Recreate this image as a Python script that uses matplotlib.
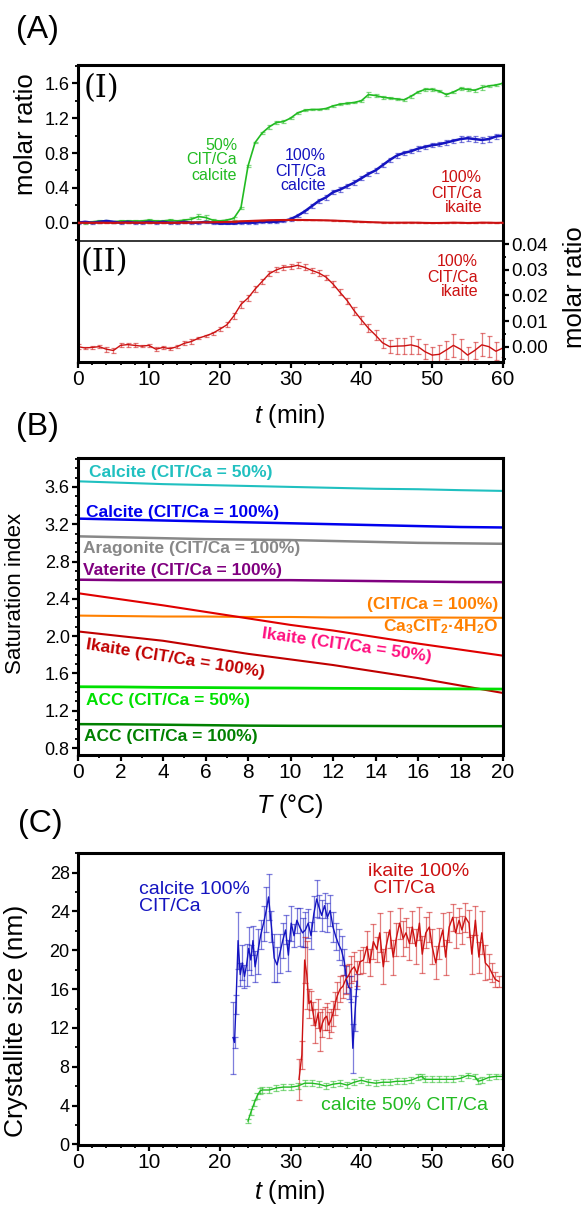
import numpy as np
import matplotlib
matplotlib.use('Agg')
import matplotlib.pyplot as plt
from matplotlib.ticker import MultipleLocator, FormatStrFormatter

plt.rcParams['font.family'] = ['Liberation Sans', 'DejaVu Sans']
plt.rcParams['mathtext.fontset'] = 'custom'
plt.rcParams['mathtext.rm'] = 'Liberation Sans'
plt.rcParams['mathtext.it'] = 'Liberation Sans:italic'
plt.rcParams['mathtext.bf'] = 'Liberation Sans:bold'

# ---------------- panel A : molar ratio vs time ----------------
t_a = list(range(0, 61))
calc50_a = [0.01, 0.00, 0.01, 0.02, 0.02, 0.01, 0.02, 0.02, 0.02, 0.02,
            0.03, 0.02, 0.02, 0.03, 0.02, 0.03, 0.04, 0.07, 0.06, 0.03,
            0.02, 0.03, 0.05, 0.17, 0.65, 0.92, 1.03, 1.10, 1.15, 1.16,
            1.20, 1.26, 1.29, 1.30, 1.30, 1.31, 1.34, 1.36, 1.37, 1.38,
            1.40, 1.47, 1.46, 1.44, 1.43, 1.42, 1.41, 1.45, 1.50, 1.53,
            1.53, 1.51, 1.47, 1.50, 1.54, 1.53, 1.52, 1.55, 1.57, 1.58, 1.60]
calc50_a_err = [0.01, 0.01, 0.01, 0.01, 0.01, 0.01, 0.01, 0.01, 0.01, 0.01,
                0.01, 0.01, 0.01, 0.01, 0.01, 0.01, 0.03, 0.03, 0.03, 0.015,
                0.015, 0.015, 0.015, 0.01, 0.01, 0.01, 0.01, 0.02, 0.02, 0.02,
                0.01, 0.01, 0.01, 0.01, 0.01, 0.01, 0.01, 0.01, 0.01, 0.01,
                0.01, 0.03, 0.015, 0.015, 0.015, 0.015, 0.015, 0.015, 0.015, 0.015,
                0.015, 0.015, 0.015, 0.015, 0.015, 0.015, 0.015, 0.025, 0.015, 0.015, 0.015]
calc100_a = [0.00, 0.01, 0.00, 0.01, 0.02, 0.01, 0.00, 0.01, 0.00, 0.00,
             0.01, 0.00, 0.01, 0.00, 0.00, 0.01, 0.00, 0.00, 0.01, 0.00,
             -0.01, -0.01, -0.01, 0.00, 0.00, 0.00, 0.01, 0.01, 0.01, 0.02,
             0.04, 0.08, 0.13, 0.19, 0.25, 0.29, 0.35, 0.38, 0.42, 0.46,
             0.51, 0.56, 0.60, 0.66, 0.72, 0.77, 0.80, 0.82, 0.85, 0.87,
             0.89, 0.90, 0.92, 0.94, 0.96, 0.97, 0.96, 0.95, 0.96, 0.99, 1.00]
calc100_a_err = [0.01] * 30 + [0.02, 0.02, 0.02, 0.025, 0.025, 0.025, 0.025, 0.025, 0.025, 0.025,
                               0.025, 0.025, 0.025, 0.025, 0.025, 0.025, 0.025, 0.025, 0.025, 0.025,
                               0.025, 0.025, 0.025, 0.025, 0.03, 0.03, 0.03, 0.03, 0.03, 0.03, 0.03]
ika100_a = [0.0000, -0.0005, -0.0003, 0.0000, -0.0010, -0.0015, 0.0005, 0.0008, 0.0005, 0.0002,
            0.0005, -0.0010, -0.0003, -0.0008, 0.0000, 0.0013, 0.0020, 0.0033, 0.0042, 0.0052,
            0.0068, 0.0085, 0.0120, 0.0165, 0.0190, 0.0225, 0.0255, 0.0285, 0.0300, 0.0310,
            0.0312, 0.0318, 0.0310, 0.0298, 0.0288, 0.0272, 0.0245, 0.0212, 0.0180, 0.0140,
            0.0105, 0.0072, 0.0045, 0.0015, 0.0000, 0.0002, 0.0003, 0.0007, 0.0000, -0.0020,
            -0.0033, -0.0030, -0.0013, 0.0005, -0.0010, -0.0033, -0.0015, 0.0007, 0.0000, -0.0018, -0.0005]
ika100_a_err = [0.0010, 0.0005, 0.0005, 0.0005, 0.0010, 0.0010, 0.0008, 0.0008, 0.0008, 0.0005,
                0.0005, 0.0008, 0.0005, 0.0005, 0.0005, 0.0008, 0.0008, 0.0005, 0.0005, 0.0005,
                0.0008, 0.0010, 0.0012, 0.0012, 0.0012, 0.0012, 0.0010, 0.0010, 0.0010, 0.0010,
                0.0010, 0.0012, 0.0012, 0.0010, 0.0010, 0.0010, 0.0012, 0.0012, 0.0012, 0.0015,
                0.0015, 0.0015, 0.0020, 0.0020, 0.0025, 0.0030, 0.0030, 0.0035, 0.0030, 0.0030,
                0.0030, 0.0035, 0.0035, 0.0045, 0.0040, 0.0030, 0.0035, 0.0045, 0.0040, 0.0035, 0.0035]

# ---------------- panel B : saturation index vs T ----------------
T_b = [0, 2, 4, 6, 8, 10, 12, 14, 16, 18, 20]
si_calcite50 = [3.66, 3.645, 3.63, 3.62, 3.61, 3.60, 3.59, 3.58, 3.575, 3.565, 3.557]
si_calcite100 = [3.26, 3.25, 3.24, 3.23, 3.22, 3.21, 3.20, 3.19, 3.18, 3.17, 3.165]
si_aragonite100 = [3.07, 3.06, 3.05, 3.04, 3.035, 3.03, 3.02, 3.01, 3.00, 2.995, 2.99]
si_vaterite100 = [2.605, 2.60, 2.60, 2.60, 2.60, 2.60, 2.595, 2.59, 2.585, 2.58, 2.578]
si_cacit100 = [2.22, 2.215, 2.21, 2.21, 2.205, 2.205, 2.20, 2.20, 2.20, 2.198, 2.196]
si_ikaite50 = [2.46, 2.395, 2.33, 2.26, 2.19, 2.12, 2.06, 1.99, 1.92, 1.855, 1.79]
si_ikaite100 = [2.05, 2.00, 1.95, 1.88, 1.81, 1.75, 1.69, 1.62, 1.55, 1.47, 1.39]
si_acc50 = [1.457, 1.455, 1.45, 1.448, 1.445, 1.443, 1.44, 1.438, 1.436, 1.434, 1.432]
si_acc100 = [1.056, 1.054, 1.05, 1.045, 1.04, 1.038, 1.037, 1.036, 1.035, 1.034, 1.034]

# ---------------- panel C : crystallite size vs time ----------------
t_c_calc100 = [21.9, 22.1, 22.3, 22.6, 22.9, 23.2, 23.5, 23.8, 24.1, 24.4, 24.7, 25.0, 25.4,
               25.8, 26.2, 26.6, 26.9, 27.3, 27.7, 28.1, 28.5, 28.9, 29.3, 29.7, 30.1, 30.5,
               30.9, 31.3, 31.7, 32.1, 32.5, 32.9, 33.3, 33.7, 34.0, 34.4, 34.8, 35.2, 35.6,
               36.0, 36.4, 36.8, 37.2, 37.6, 37.9, 38.2, 38.5, 38.8, 39.1, 39.4]
size_calc100 = [11.0, 10.5, 14.4, 21.0, 17.5, 18.7, 17.3, 18.5, 20.2, 19.0, 21.0, 18.3, 19.9,
                21.6, 22.8, 24.2, 25.5, 22.5, 19.2, 18.5, 19.7, 21.0, 22.1, 19.5, 22.8, 21.5,
                23.1, 22.4, 21.8, 22.1, 22.8, 21.5, 23.8, 25.3, 24.5, 23.6, 24.6, 23.4, 24.1,
                22.4, 21.4, 20.6, 20.0, 18.8, 17.0, 16.2, 16.0, 9.9, 13.5, 16.8]
size_calc100_err = [3.7, 0.6, 1.0, 2.9, 1.2, 1.8, 1.2, 2.2, 2.2, 1.5, 1.5, 1.6, 2.3,
                    1.5, 1.8, 2.3, 2.4, 1.6, 2.5, 1.8, 2.0, 1.8, 1.5, 1.6, 1.8, 1.2,
                    1.3, 2.0, 1.5, 1.8, 1.5, 1.4, 1.8, 1.9, 1.2, 1.6, 1.3, 1.5, 1.6,
                    1.5, 1.4, 1.6, 1.5, 1.3, 1.4, 1.2, 1.3, 2.5, 1.8, 0.8]

t_c_ika100 = [31.2, 31.6, 32.0, 32.3, 32.6, 32.9, 33.2, 33.5, 33.9, 34.2, 34.5, 34.8, 35.1,
              35.4, 35.7, 36.0, 36.3, 36.6, 37.0, 37.4, 37.8, 38.2, 38.6, 39.0, 39.4, 39.8,
              40.3, 40.8, 41.2, 41.7, 42.2, 42.6, 43.1, 43.5, 44.0, 44.5, 44.9, 45.4, 45.9,
              46.3, 46.8, 47.2, 47.7, 48.2, 48.6, 49.1, 49.6, 50.0, 50.5, 51.0, 51.5, 51.9,
              52.4, 52.9, 53.3, 53.8, 54.2, 54.7, 55.2, 55.6, 56.1, 56.6, 57.0, 57.5, 58.0,
              58.4, 58.9, 59.4]
size_ika100 = [6.7, 9.2, 19.0, 17.5, 14.5, 14.8, 13.5, 12.2, 13.5, 11.6, 12.5, 13.0, 13.2,
               12.3, 12.8, 13.5, 14.5, 15.3, 16.0, 16.3, 17.0, 17.4, 18.0, 18.3, 17.6, 18.8,
               19.0, 20.4, 18.7, 20.9, 20.1, 21.8, 18.3, 20.4, 22.1, 19.3, 21.1, 22.8, 21.2,
               21.8, 20.7, 22.4, 20.4, 22.8, 19.6, 21.8, 22.4, 20.4, 18.7, 20.7, 22.1, 19.3,
               22.4, 23.4, 21.8, 23.1, 22.1, 23.4, 22.8, 19.6, 23.1, 19.3, 21.8, 18.7, 18.3,
               17.7, 17.0, 16.8]
size_ika100_err = [2.1, 1.4, 2.4, 3.5, 1.5, 1.0, 1.2, 1.8, 1.5, 2.0, 1.4, 1.2, 1.4,
                   1.3, 1.2, 1.3, 1.2, 1.4, 1.3, 1.2, 1.5, 1.2, 1.4, 1.5, 1.3, 1.2,
                   1.3, 1.6, 1.4, 1.8, 1.3, 2.0, 1.8, 1.5, 1.9, 1.8, 1.7, 1.6, 1.8,
                   1.5, 1.7, 1.6, 1.8, 1.7, 1.9, 1.6, 1.5, 1.8, 1.7, 1.6, 1.7, 1.8,
                   1.5, 1.4, 1.6, 1.3, 1.4, 1.5, 1.4, 2.0, 1.5, 1.6, 2.2, 1.8, 1.3,
                   1.0, 0.8, 0.6]

t_c_calc50 = [24.0, 24.4, 24.9, 25.3, 25.7, 26, 27, 28, 29, 30, 31, 32, 33, 34, 35, 36, 37, 38,
              39, 40, 41, 42, 43, 44, 45, 46, 47, 48, 48.5, 49, 50, 51, 52, 53, 54, 55, 56,
              56.5, 57, 58, 59, 60]
size_calc50 = [2.4, 3.3, 4.3, 5.0, 5.5, 5.6, 5.6, 5.8, 5.9, 5.9, 6.0, 6.3, 6.3, 6.2, 6.0, 6.2,
               6.3, 6.1, 6.4, 6.6, 6.4, 6.3, 6.4, 6.4, 6.5, 6.5, 6.6, 6.9, 7.0, 6.7, 6.7, 6.7,
               6.7, 6.7, 6.8, 7.1, 7.0, 6.5, 6.6, 6.9, 7.0, 7.0]
size_calc50_err = [0.2, 0.3, 0.3, 0.3, 0.3, 0.3, 0.3, 0.3, 0.3, 0.3, 0.3, 0.3, 0.3, 0.3, 0.3, 0.3,
                   0.3, 0.3, 0.3, 0.3, 0.3, 0.3, 0.3, 0.3, 0.3, 0.3, 0.3, 0.3, 0.3, 0.3, 0.3, 0.3,
                   0.3, 0.3, 0.3, 0.3, 0.3, 0.3, 0.3, 0.3, 0.3, 0.3]

GREEN = '#22bb22'
BLUE = '#1414c0'
RED = '#cc1111'

W, H = 586, 1206
fig = plt.figure(figsize=(W / 100, H / 100), dpi=100)


def box(x0, y0, x1, y1):
    # pixel box (top-left, bottom-right) -> figure fraction
    return [x0 / W, 1 - y1 / H, (x1 - x0) / W, (y1 - y0) / H]


def ftext(x, y, s, **kw):
    kw.setdefault('ha', 'center')
    kw.setdefault('va', 'center')
    return fig.text(x / W, 1 - y / H, s, **kw)


def style(ax):
    for s in ax.spines.values():
        s.set_linewidth(2.2)
    ax.tick_params(which='major', direction='out', length=4, width=1.6, pad=2, labelsize=13)
    ax.tick_params(which='minor', direction='out', length=2.5, width=1.3)


def eb(ax, x, y, e, color, lw=1.0, cap=1.8, ealpha=0.55, z=2):
    ax.errorbar(x, y, yerr=e, color=color, lw=lw, ecolor=matplotlib.colors.to_rgba(color, ealpha),
                elinewidth=0.9, capsize=cap, capthick=0.9, zorder=z)


# ---- (A)(II)  (drawn first so the divider of (I) sits on top)
ax2 = fig.add_axes(box(78, 241, 503, 362))
style(ax2)
ax2.spines['top'].set_visible(False)
eb(ax2, t_a, ika100_a, ika100_a_err, RED, lw=1.0)
ax2.set_xlim(0, 60)
ax2.set_ylim(-0.006, 0.0413)
ax2.yaxis.tick_right()
ax2.tick_params(axis='y', which='both', left=False, labelleft=False, right=True, labelright=True,
                labelsize=13.5)
ax2.yaxis.set_major_locator(MultipleLocator(0.01))
ax2.yaxis.set_minor_locator(MultipleLocator(0.005))
ax2.yaxis.set_major_formatter(FormatStrFormatter('%.2f'))
ax2.xaxis.set_major_locator(MultipleLocator(10))
ax2.xaxis.set_minor_locator(MultipleLocator(2))
ax2.tick_params(axis='x', labelsize=15)

# ---- (A)(I)
ax1 = fig.add_axes(box(78, 65, 503, 241))
ax1.set_facecolor('none')
style(ax1)
ax1.spines['bottom'].set_linewidth(1.1)
eb(ax1, t_a, calc50_a, calc50_a_err, GREEN, lw=1.2)
eb(ax1, t_a, calc100_a, calc100_a_err, BLUE, lw=1.8)
eb(ax1, t_a, ika100_a, ika100_a_err, RED, lw=1.5, z=3)
ax1.set_xlim(0, 60)
ax1.set_ylim(-0.21, 1.81)
ax1.yaxis.set_major_locator(MultipleLocator(0.4))
ax1.yaxis.set_minor_locator(MultipleLocator(0.2))
ax1.yaxis.set_major_formatter(FormatStrFormatter('%.1f'))
ax1.tick_params(axis='x', which='both', bottom=False, labelbottom=False)

# ---- (B)
ax3 = fig.add_axes(box(78, 458, 503, 755))
style(ax3)
ax3.plot(T_b, si_calcite50, color='#20c0c0', lw=1.5)
ax3.plot(T_b, si_calcite100, color='#0000ee', lw=1.8)
ax3.plot(T_b, si_aragonite100, color='#888888', lw=1.8)
ax3.plot(T_b, si_vaterite100, color='#800080', lw=1.8)
ax3.plot(T_b, si_cacit100, color='#ff8000', lw=1.5)
ax3.plot(T_b, si_ikaite50, color='#e00000', lw=1.5)
ax3.plot(T_b, si_ikaite100, color='#c00000', lw=1.5)
ax3.plot(T_b, si_acc50, color='#00e000', lw=2.0)
ax3.plot(T_b, si_acc100, color='#008000', lw=1.8)
ax3.set_xlim(0, 20)
ax3.set_ylim(0.725, 3.91)
ax3.yaxis.set_major_locator(MultipleLocator(0.4))
ax3.yaxis.set_minor_locator(MultipleLocator(0.1))
ax3.yaxis.set_major_formatter(FormatStrFormatter('%.1f'))
ax3.xaxis.set_major_locator(MultipleLocator(2))
ax3.xaxis.set_minor_locator(MultipleLocator(1))
ax3.tick_params(axis='x', labelsize=15)

# ---- (C)
ax4 = fig.add_axes(box(78, 853, 503, 1145))
style(ax4)
eb(ax4, t_c_calc50, size_calc50, size_calc50_err, GREEN, lw=1.0, cap=2.2)
eb(ax4, t_c_calc100, size_calc100, size_calc100_err, BLUE, lw=1.0, cap=2.2)
eb(ax4, t_c_ika100, size_ika100, size_ika100_err, RED, lw=1.0, cap=2.2)
ax4.set_xlim(0, 60)
ax4.set_ylim(-0.07, 30.03)
ax4.yaxis.set_major_locator(MultipleLocator(4))
ax4.yaxis.set_minor_locator(MultipleLocator(2))
ax4.xaxis.set_major_locator(MultipleLocator(10))
ax4.xaxis.set_minor_locator(MultipleLocator(2))
ax4.tick_params(axis='x', labelsize=15)

# ---- panel letters and axis titles
ftext(37, 30, '(A)', fontsize=23)
ftext(37, 427, '(B)', fontsize=23)
ftext(40, 824, '(C)', fontsize=23)

ftext(84, 89, '(I)', ha='left', fontsize=22, family=['DejaVu Serif'])
ftext(81, 263, '(II)', ha='left', fontsize=22, family=['DejaVu Serif'])

ftext(26, 134, 'molar ratio', rotation=90, fontsize=18.5)
ftext(575, 287, 'molar ratio', rotation=90, fontsize=18.5)
ftext(290, 416, '$t$ (min)', fontsize=18)
ftext(16, 593, 'Saturation index', rotation=90, fontsize=16)
ftext(290, 806, '$T$ (°C)', fontsize=18)
ftext(16, 1021, 'Crystallite size (nm)', rotation=90, fontsize=19)
ftext(290, 1192, '$t$ (min)', fontsize=18)

# ---- annotations panel A
ftext(237, 160, '50%\nCIT/Ca\ncalcite', ha='right', fontsize=11.5, color=GREEN, linespacing=1.0)
ftext(326, 171, '100%\nCIT/Ca\ncalcite', ha='right', fontsize=11.5, color=BLUE, linespacing=1.0)
ftext(482, 193, '100%\nCIT/Ca\nikaite', ha='right', fontsize=11.5, color=RED, linespacing=1.0)
ftext(478, 277, '100%\nCIT/Ca\nikaite', ha='right', fontsize=11.5, color=RED, linespacing=1.0)

# ---- annotations panel B
bk = dict(fontsize=12.5, fontweight='bold')
ftext(89, 473, 'Calcite (CIT/Ca = 50%)', ha='left', color='#20c0c0', **bk)
ftext(86, 512, 'Calcite (CIT/Ca = 100%)', ha='left', color='#0000ee', **bk)
ftext(83, 549, 'Aragonite (CIT/Ca = 100%)', ha='left', color='#888888', **bk)
ftext(83, 571, 'Vaterite (CIT/Ca = 100%)', ha='left', color='#800080', **bk)
ftext(498, 604, '(CIT/Ca = 100%)', ha='right', color='#ff8000', **bk)
ftext(498, 627, r'Ca$_\mathbf{3}$CIT$_\mathbf{2}$·4H$_\mathbf{2}$O', ha='right', color='#ff8000', **bk)
ftext(347, 645, 'Ikaite (CIT/Ca = 50%)', rotation=-8, rotation_mode='anchor', color='#ff1080', **bk)
ftext(175, 659, 'Ikaite (CIT/Ca = 100%)', rotation=-9, rotation_mode='anchor', color='#c00000', **bk)
ftext(86, 700, 'ACC (CIT/Ca = 50%)', ha='left', color='#00e000', **bk)
ftext(84, 737, 'ACC (CIT/Ca = 100%)', ha='left', color='#008000', **bk)

# ---- annotations panel C
ftext(139, 898, 'calcite 100%\nCIT/Ca', ha='left', fontsize=14, color=BLUE, linespacing=1.0)
ftext(368, 880, 'ikaite 100%\n CIT/Ca', ha='left', fontsize=14, color=RED, linespacing=1.0)
ftext(321, 1106, 'calcite 50% CIT/Ca', ha='left', fontsize=14, color=GREEN)

fig.savefig('out.png', dpi=100)
